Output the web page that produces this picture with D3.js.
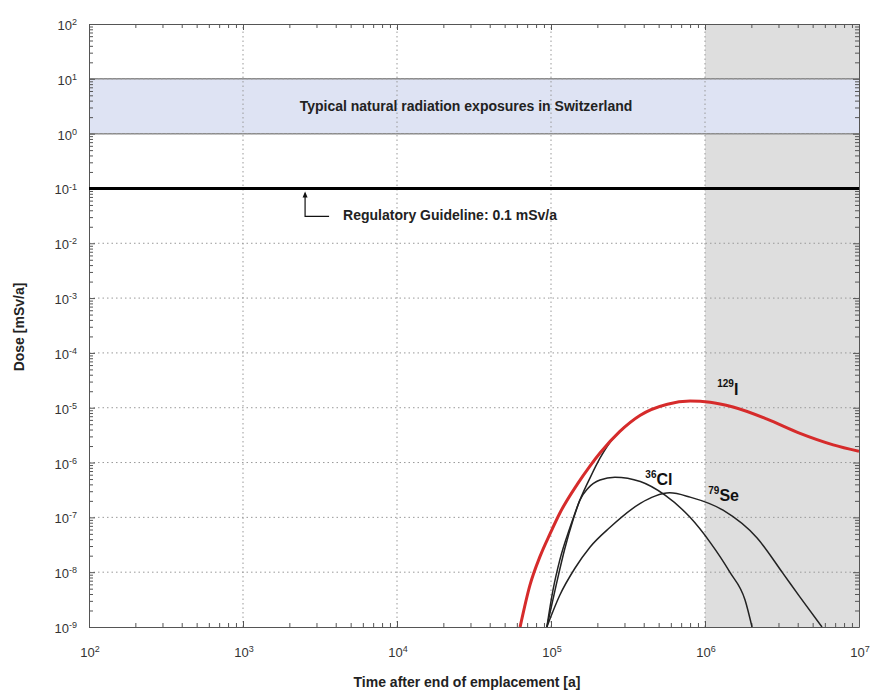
<!DOCTYPE html>
<html>
<head>
<meta charset="utf-8">
<script src="https://cdn.jsdelivr.net/npm/d3@7"></script>
<style>
  body { margin: 0; background: #fff; }
  svg { font-family: "Liberation Sans", Arial, sans-serif; }
</style>
</head>
<body>
<div id="chart"></div>
<script>
// Values (years after end of emplacement, dose in mSv/a).
const totalYears = [6.3e4, 7.3e4, 8.5e4, 9.9e4, 1.14e5, 1.48e5, 1.79e5, 2.08e5, 2.8e5, 3.8e5, 5.7e5, 8.0e5, 1.08e6, 1.52e6, 2.53e6, 4.14e6, 6.8e6, 1e7];
const totalDose = [1e-9, 5.8e-9, 1.96e-8, 5.15e-8, 1.19e-7, 4.0e-7, 8.6e-7, 1.49e-6, 3.7e-6, 7.3e-6, 1.16e-5, 1.32e-5, 1.26e-5, 1.03e-5, 6.2e-6, 3.4e-6, 2.1e-6, 1.6e-6];

const iodineYears = [9.4e4, 1.03e5, 1.14e5, 1.33e5, 1.54e5, 1.79e5, 2.08e5, 2.42e5, 2.8e5, 3.8e5];
const iodineDose = [1e-9, 4.7e-9, 1.66e-8, 6.6e-8, 2.06e-7, 5.2e-7, 1.2e-6, 2.35e-6, 3.7e-6, 7.3e-6];

const chlorineYears = [9.4e4, 1.08e5, 1.23e5, 1.39e5, 1.54e5, 1.74e5, 2.08e5, 2.6e5, 3.8e5, 5.5e5, 8.0e5, 1.08e6, 1.45e6, 1.82e6, 2.02e6];
const chlorineDose = [1e-9, 5.8e-9, 2.7e-8, 8.9e-8, 2.06e-7, 3.4e-7, 4.8e-7, 5.4e-7, 4.5e-7, 2.54e-7, 1.0e-7, 3.5e-8, 1.0e-8, 3.1e-9, 1e-9];

const seleniumYears = [9.4e4, 1.14e5, 1.43e5, 1.79e5, 2.42e5, 3.8e5, 4.73e5, 5.9e5, 8.0e5, 1.31e6, 2.18e6, 3.2e6, 4.14e6, 5.75e6];
const seleniumDose = [1e-9, 3.8e-9, 1.18e-8, 2.86e-8, 6.6e-8, 1.8e-7, 2.44e-7, 2.8e-7, 2.34e-7, 1.35e-7, 4.2e-8, 9.6e-9, 3.5e-9, 1e-9];

const xExponents = [2, 3, 4, 5, 6, 7];
const yExponents = [-9, -8, -7, -6, -5, -4, -3, -2, -1, 0, 1, 2];

const naturalBand = [1, 10];
const guideline = 0.1;
const shadedFrom = 1e6;

const bandLabel = 'Typical natural radiation exposures in Switzerland';
const guidelineLabel = 'Regulatory Guideline: 0.1 mSv/a';
const xTitle = 'Time after end of emplacement [a]';
const yTitle = 'Dose [mSv/a]';

const width = 871;
const height = 694;
const margin = {top: 24, right: 12, bottom: 67, left: 89};

const x = d3.scaleLog().domain([1e2, 1e7]).range([margin.left, width - margin.right]);
const y = d3.scaleLog().domain([1e-9, 1e2]).range([height - margin.bottom, margin.top]);

const svg = d3.select('#chart').append('svg')
  .attr('width', width)
  .attr('height', height);

svg.append('clipPath').attr('id', 'plot-clip')
  .append('rect')
  .attr('x', x.range()[0]).attr('y', y.range()[1])
  .attr('width', x.range()[1] - x.range()[0])
  .attr('height', y.range()[0] - y.range()[1]);

// Shaded region beyond one million years.
svg.append('rect')
  .attr('x', x(shadedFrom))
  .attr('y', y.range()[1])
  .attr('width', x.range()[1] - x(shadedFrom))
  .attr('height', y.range()[0] - y.range()[1])
  .attr('fill', '#dedede');

// Natural exposure band.
svg.append('rect')
  .attr('x', x.range()[0])
  .attr('y', y(naturalBand[1]))
  .attr('width', x.range()[1] - x.range()[0])
  .attr('height', y(naturalBand[0]) - y(naturalBand[1]))
  .attr('fill', '#dee3f3');

svg.append('g')
  .selectAll('line')
  .data(naturalBand)
  .join('line')
  .attr('x1', x.range()[0]).attr('x2', x.range()[1])
  .attr('y1', d => y(d)).attr('y2', d => y(d))
  .attr('stroke', '#8c8c8c')
  .attr('stroke-width', 1.5);

// Dotted grid at each decade.
const grid = svg.append('g')
  .attr('stroke', '#999')
  .attr('stroke-width', 1)
  .attr('stroke-dasharray', '1.5,3');

grid.selectAll('.gx')
  .data(xExponents.slice(1, -1))
  .join('line')
  .attr('x1', d => x(10 ** d)).attr('x2', d => x(10 ** d))
  .attr('y1', y.range()[0]).attr('y2', y.range()[1]);

grid.selectAll('.gy')
  .data(yExponents.slice(1, -1))
  .join('line')
  .attr('y1', d => y(10 ** d)).attr('y2', d => y(10 ** d))
  .attr('x1', x.range()[0]).attr('x2', x.range()[1]);

// Inward ticks on all four sides.
const minor = (exps) => exps.slice(0, -1).flatMap(e => d3.range(2, 10).map(k => k * 10 ** e));
const xMajor = xExponents.map(e => 10 ** e);
const yMajor = yExponents.map(e => 10 ** e);

const tickGroups = [
  [d3.axisBottom(x), `translate(0,${y.range()[0]})`, xMajor, minor(xExponents)],
  [d3.axisTop(x), `translate(0,${y.range()[1]})`, xMajor, minor(xExponents)],
  [d3.axisLeft(y), `translate(${x.range()[0]},0)`, yMajor, minor(yExponents)],
  [d3.axisRight(y), `translate(${x.range()[1]},0)`, yMajor, minor(yExponents)]
];

tickGroups.forEach(([axis, transform, major, minorValues]) => {
  svg.append('g')
    .attr('transform', transform)
    .call(axis.tickValues(minorValues).tickSize(-4).tickSizeOuter(0).tickFormat(''))
    .call(g => g.select('.domain').remove())
    .selectAll('line').attr('stroke', '#555');
  svg.append('g')
    .attr('transform', transform)
    .call(axis.tickValues(major).tickSize(-6).tickSizeOuter(0).tickFormat(''))
    .call(g => g.select('.domain').attr('stroke', '#555'))
    .selectAll('line').attr('stroke', '#555');
});

// Tick labels as 10 with superscript exponent.
const powerLabel = (sel) => {
  sel.append('tspan').text('10');
  sel.append('tspan')
    .attr('dy', '-0.55em')
    .attr('font-size', 9)
    .text(d => d);
};

svg.append('g')
  .attr('font-size', 13)
  .attr('fill', '#333')
  .attr('text-anchor', 'middle')
  .selectAll('text')
  .data(xExponents)
  .join('text')
  .attr('x', d => x(10 ** d) + 1)
  .attr('y', 657)
  .call(powerLabel);

svg.append('g')
  .attr('font-size', 13)
  .attr('fill', '#333')
  .attr('text-anchor', 'end')
  .selectAll('text')
  .data(yExponents)
  .join('text')
  .attr('x', 77)
  .attr('y', d => y(10 ** d) + 6)
  .call(powerLabel);

// Regulatory guideline.
svg.append('line')
  .attr('x1', x.range()[0]).attr('x2', x.range()[1])
  .attr('y1', y(guideline)).attr('y2', y(guideline))
  .attr('stroke', '#000')
  .attr('stroke-width', 3);

const arrowX = x(2.53e3);
svg.append('path')
  .attr('d', `M${arrowX},${y(guideline) + 5}V${y(guideline) + 28}H${arrowX + 24}`)
  .attr('fill', 'none')
  .attr('stroke', '#111')
  .attr('stroke-width', 1.2);
svg.append('path')
  .attr('d', `M${arrowX},${y(guideline) + 3}l-2.5,6h5z`)
  .attr('fill', '#111');

svg.append('text')
  .attr('x', arrowX + 38)
  .attr('y', y(guideline) + 32)
  .attr('font-size', 14)
  .attr('font-weight', 'bold')
  .attr('fill', '#222')
  .text(guidelineLabel);

svg.append('text')
  .attr('x', 466)
  .attr('y', Math.sqrt(y(naturalBand[0]) * y(naturalBand[1])) + 3)
  .attr('dy', '0.35em')
  .attr('text-anchor', 'middle')
  .attr('font-size', 14)
  .attr('font-weight', 'bold')
  .attr('fill', '#222')
  .text(bandLabel);

// Dose curves.
const line = d3.line()
  .x(d => x(d[0]))
  .y(d => y(d[1]))
  .curve(d3.curveMonotoneX);

const curves = svg.append('g').attr('clip-path', 'url(#plot-clip)').attr('fill', 'none');

[[chlorineYears, chlorineDose], [seleniumYears, seleniumDose], [iodineYears, iodineDose]].forEach(([t, dose]) => {
  curves.append('path')
    .attr('d', line(d3.zip(t, dose)))
    .attr('stroke', '#222')
    .attr('stroke-width', 1.5);
});

curves.append('path')
  .attr('d', line(d3.zip(totalYears, totalDose)))
  .attr('stroke', '#d62b2b')
  .attr('stroke-width', 3);

// Nuclide labels.
const nuclides = [
  {mass: '129', symbol: 'I', t: 1.2e6, dose: 1.75e-5},
  {mass: '36', symbol: 'Cl', t: 4.1e5, dose: 3.9e-7},
  {mass: '79', symbol: 'Se', t: 1.05e6, dose: 2.0e-7}
];

const labels = svg.append('g')
  .attr('font-weight', 'bold')
  .attr('fill', '#111')
  .selectAll('text')
  .data(nuclides)
  .join('text')
  .attr('x', d => x(d.t))
  .attr('y', d => y(d.dose));

labels.append('tspan')
  .attr('font-size', 10)
  .attr('dy', '-0.7em')
  .text(d => d.mass);
labels.append('tspan')
  .attr('font-size', 16)
  .attr('dy', '0.45em')
  .text(d => d.symbol);

// Axis titles.
svg.append('text')
  .attr('x', 467)
  .attr('y', 687)
  .attr('text-anchor', 'middle')
  .attr('font-size', 14)
  .attr('font-weight', 'bold')
  .attr('fill', '#222')
  .text(xTitle);

svg.append('text')
  .attr('transform', 'translate(24,327) rotate(-90)')
  .attr('text-anchor', 'middle')
  .attr('font-size', 14)
  .attr('font-weight', 'bold')
  .attr('fill', '#222')
  .text(yTitle);
</script>
</body>
</html>
